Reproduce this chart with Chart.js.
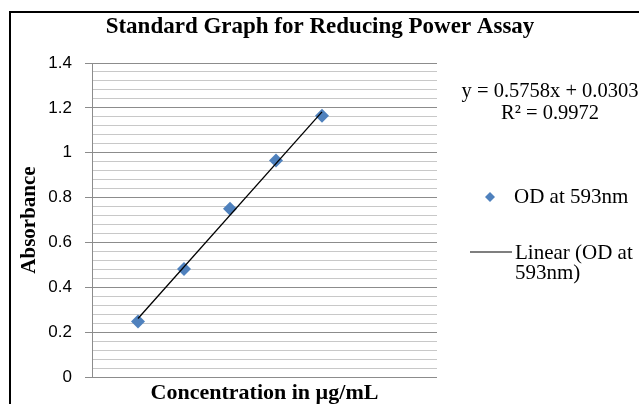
<!DOCTYPE html>
<html>
<head>
<meta charset="utf-8">
<script src="https://cdn.jsdelivr.net/npm/chart.js"></script>
<style>
  body { margin: 0; background: #ffffff; }
</style>
</head>
<body>
<canvas id="od-chart" width="639" height="404"></canvas>
<script>
// concentration (x) and absorbance
const concentration = [0.4, 0.8, 1.2, 1.6, 2.0]
const absorbance = [0.248, 0.482, 0.750, 0.965, 1.165]
const yTickLabels = ["0", "0.2", "0.4", "0.6", "0.8", "1", "1.2", "1.4"]

// trendline as printed on the chart
const trendSlope = 0.5758
const trendIntercept = 0.0303
const titleText = "Standard Graph for Reducing Power Assay"
const equationText = ["y = 0.5758x + 0.0303", "R\u00b2 = 0.9972"]
const legendText = ["OD at 593nm", "Linear (OD at", "593nm)"]

const pointData = concentration.map((c, i) => ({x: c, y: absorbance[i]}))
const xFirst = concentration[0]
const xLast = concentration[concentration.length - 1]
const trendData = [
    {x: xFirst, y: trendSlope * xFirst + trendIntercept},
    {x: xLast, y: trendSlope * xLast + trendIntercept}
]

const blue = "#4f81bd"
const majorGrid = "#8c8c8c"
const minorGrid = "#c8c8c8"

function isMajor(v) {
    return yTickLabels.includes(String(Math.round(v * 100) / 100))
}

// black frame (top + left), title centred on the whole picture, legend/equation on the right
const extras = {
    id: "extras",
    beforeDraw(chart) {
        const ctx = chart.ctx
        ctx.save()
        ctx.fillStyle = "#ffffff"
        ctx.fillRect(0, 0, chart.width, chart.height)
        ctx.fillStyle = "#000000"
        ctx.fillRect(9, 11, 630, 2)
        ctx.fillRect(9, 11, 2, 393)
        ctx.restore()
    },
    afterDraw(chart) {
        const ctx = chart.ctx
        ctx.save()
        ctx.fillStyle = "#000000"
        ctx.textBaseline = "middle"
        ctx.textAlign = "center"
        ctx.font = 'bold 23px "Liberation Serif"'
        ctx.fillText(titleText, 320, 27)

        ctx.font = '20.5px "Liberation Serif"'
        ctx.fillText(equationText[0], 550, 92)
        ctx.fillText(equationText[1], 550, 114)

        ctx.textAlign = "left"
        ctx.font = '21px "Liberation Serif"'
        // diamond marker
        ctx.fillStyle = blue
        ctx.beginPath()
        ctx.moveTo(490, 192)
        ctx.lineTo(495, 197)
        ctx.lineTo(490, 202)
        ctx.lineTo(485, 197)
        ctx.closePath()
        ctx.fill()
        ctx.fillStyle = "#000000"
        ctx.fillText(legendText[0], 514, 197)

        // line sample
        ctx.strokeStyle = "#000000"
        ctx.lineWidth = 1.2
        ctx.beginPath()
        ctx.moveTo(470, 252)
        ctx.lineTo(512, 252)
        ctx.stroke()
        ctx.fillText(legendText[1], 515, 253)
        ctx.fillText(legendText[2], 515, 273)
        ctx.restore()
    }
}

new Chart("od-chart", {
    type: "scatter",
    data: {
        datasets: [
            {
                label: "Linear (OD at 593nm)",
                type: "line",
                data: trendData,
                borderColor: "#000000",
                borderWidth: 1.3,
                pointRadius: 0,
                fill: false,
                order: 0
            },
            {
                label: "OD at 593nm",
                data: pointData,
                pointStyle: "rectRot",
                pointRadius: 7,
                pointHoverRadius: 7,
                backgroundColor: blue,
                borderColor: blue,
                borderWidth: 0,
                order: 1
            }
        ]
    },
    options: {
        responsive: false,
        animation: false,
        layout: {
            padding: {left: 0, right: 202, top: 63, bottom: 0}
        },
        plugins: {
            legend: { display: false },
            tooltip: { enabled: false },
            title: { display: false }
        },
        scales: {
            x: {
                type: "linear",
                min: 0,
                max: 3,
                ticks: { display: false },
                grid: { display: false },
                border: { display: false },
                title: {
                    display: true,
                    text: "Concentration in \u00b5g/mL",
                    color: "#000000",
                    font: { family: "Liberation Serif", size: 22, weight: "bold", lineHeight: 1 },
                    padding: { top: 0, bottom: 0 }
                },
                afterFit(scale) { scale.height = 27 }
            },
            y: {
                min: 0,
                max: 1.4,
                ticks: {
                    stepSize: 0.04,
                    autoSkip: false,
                    padding: 13,
                    color: "#000000",
                    font: { family: "Liberation Sans", size: 17 },
                    callback: (v) => isMajor(v) ? String(Math.round(v * 10) / 10) : ""
                },
                grid: {
                    tickLength: 7,
                    color: (c) => isMajor(c.tick.value) ? majorGrid : minorGrid,
                    tickColor: (c) => isMajor(c.tick.value) ? majorGrid : "rgba(0,0,0,0)"
                },
                border: { display: true, color: majorGrid },
                title: {
                    display: true,
                    text: "Absorbance",
                    color: "#000000",
                    font: { family: "Liberation Serif", size: 21, weight: "bold", lineHeight: 1 },
                    padding: { top: 19, bottom: 0 }
                },
                afterFit(scale) { scale.width = 92 }
            }
        }
    },
    plugins: [extras]
});
</script>
</body>
</html>
